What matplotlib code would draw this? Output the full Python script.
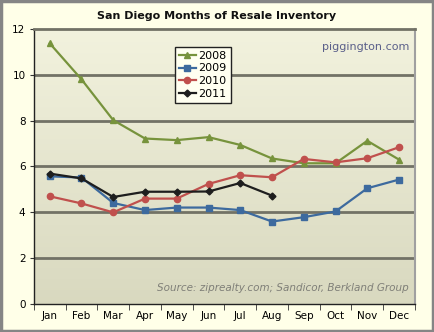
import numpy as np
import matplotlib.pyplot as plt
from matplotlib.patches import Rectangle

# --- data ---
months = ['Jan', 'Feb', 'Mar', 'Apr', 'May', 'Jun', 'Jul', 'Aug', 'Sep', 'Oct', 'Nov', 'Dec']
inv_2008 = [11.37, 9.8, 8.02, 7.22, 7.15, 7.28, 6.94, 6.35, 6.14, 6.14, 7.12, 6.3]
inv_2009 = [5.57, 5.52, 4.41, 4.1, 4.21, 4.21, 4.1, 3.6, 3.79, 4.04, 5.05, 5.43]
inv_2010 = [4.7, 4.39, 4.0, 4.6, 4.6, 5.24, 5.62, 5.53, 6.33, 6.18, 6.36, 6.84]
inv_2011 = [5.69, 5.48, 4.67, 4.9, 4.9, 4.91, 5.28, 4.73]
yticks = [0, 2, 4, 6, 8, 10, 12]

fig = plt.figure(figsize=(4.34, 3.32), dpi=100, facecolor='#FFFFE8')
fig.patches.append(Rectangle((0.003, 0.004), 0.994, 0.992, transform=fig.transFigure,
                             fill=False, edgecolor='#858585', linewidth=2.5))

ax = fig.add_axes([0.078, 0.084, 0.878, 0.829])
x = np.arange(len(months))
ax.set_xlim(-0.5, 11.5)
ax.set_ylim(0, 12)

# gradient background of the plot area
grad = np.linspace(0, 1, 256).reshape(-1, 1)
c_top = np.array([0.95, 0.95, 0.87])
c_bot = np.array([0.85, 0.85, 0.75])
img = c_top[None, None, :] * (1 - grad[:, :, None]) + c_bot[None, None, :] * grad[:, :, None]
ax.imshow(img, extent=(-0.5, 11.5, 0, 12), aspect='auto', origin='upper', zorder=0)

for yv in yticks[1:-1]:
    ax.axhline(yv, color='#727266', linewidth=2, zorder=1)

ax.plot(x, inv_2008, '-^', color='#77933C', lw=1.6, ms=5, label='2008', zorder=3)
ax.plot(x, inv_2009, '-s', color='#3D6A9E', lw=1.6, ms=4.5, label='2009', zorder=3)
ax.plot(x, inv_2010, '-o', color='#C0504D', lw=1.6, ms=4.5, label='2010', zorder=4)
ax.plot(x[:len(inv_2011)], inv_2011, '-D', color='#1E1E1E', lw=1.6, ms=3.5,
        label='2011', zorder=5)

leg = ax.legend(loc='upper left', bbox_to_anchor=(0.355, 0.955), fontsize=8,
                frameon=True, fancybox=False, handlelength=1.6, handletextpad=0.2,
                borderpad=0.35, labelspacing=0.25)
leg.get_frame().set_facecolor('#FFFFF0')
leg.get_frame().set_edgecolor('#222222')
leg.get_frame().set_linewidth(1)
leg.get_frame().set_alpha(1)

ax.set_xticks(x)
ax.set_xticklabels(months)
ax.set_xticks(np.arange(-0.5, 12, 1), minor=True)
ax.set_yticks(yticks)
ax.tick_params(axis='x', which='major', length=0, labelsize=7.5, pad=5)
ax.tick_params(axis='x', which='minor', length=4, direction='out', color='#333333')
ax.tick_params(axis='y', length=3, labelsize=7.5, pad=3, color='#333333')

ax.spines['top'].set_color('#727266')
ax.spines['top'].set_linewidth(2)
ax.spines['right'].set_color('#A0A0A0')
ax.spines['right'].set_linewidth(1.5)
for s in ['left', 'bottom']:
    ax.spines[s].set_color('#222222')
    ax.spines[s].set_linewidth(1)

ax.text(0.985, 0.935, 'piggington.com', transform=ax.transAxes, ha='right', va='center',
        fontsize=8, color='#5A5F8A', zorder=6)
ax.text(0.985, 0.06, 'Source: ziprealty.com; Sandicor, Berkland Group', transform=ax.transAxes,
        ha='right', va='center', fontsize=7.5, style='italic', color='#7F7F78', zorder=6)

fig.text(0.5, 0.952, 'San Diego Months of Resale Inventory', ha='center', va='center',
         fontsize=8, fontweight='bold', color='#111111')

fig.savefig('out.png', dpi=100, facecolor=fig.get_facecolor())
